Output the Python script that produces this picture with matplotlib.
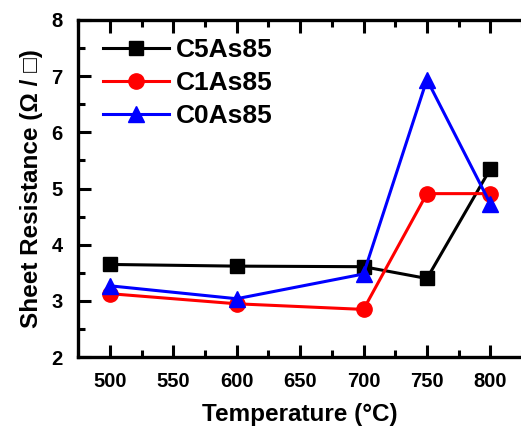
import matplotlib
matplotlib.use("Agg")
import matplotlib.pyplot as plt
from matplotlib.ticker import MultipleLocator

plt.rcParams['font.family'] = ['Liberation Sans', 'DejaVu Sans']
plt.rcParams['font.weight'] = 'bold'

temps = [500, 600, 700, 750, 800]
c5as85 = [3.65, 3.62, 3.61, 3.40, 5.35]
c1as85 = [3.13, 2.95, 2.85, 4.91, 4.91]
c0as85 = [3.27, 3.04, 3.48, 6.94, 4.73]

fig = plt.figure(figsize=(5.21, 4.34), dpi=100)
ax = fig.add_axes([0.150, 0.177, 0.852, 0.777])

ax.plot(temps, c5as85, color='black', lw=2.2, marker='s', ms=10, label='C5As85')
ax.plot(temps, c1as85, color='red', lw=2.2, marker='o', ms=11, label='C1As85')
ax.plot(temps, c0as85, color='blue', lw=2.2, marker='^', ms=12, label='C0As85')

ax.set_xlim(475, 825)
ax.set_ylim(2, 8)
ax.xaxis.set_major_locator(MultipleLocator(50))
ax.xaxis.set_minor_locator(MultipleLocator(25))
ax.yaxis.set_major_locator(MultipleLocator(1))
ax.yaxis.set_minor_locator(MultipleLocator(0.5))

for s in ['left', 'bottom', 'top']:
    ax.spines[s].set_linewidth(2.4)
ax.spines['right'].set_visible(False)

ax.tick_params(which='major', direction='in', length=9, width=2.2, labelsize=14.5, pad=11)
ax.tick_params(which='minor', direction='in', length=5, width=2.2)
ax.tick_params(which='both', top=True)
ax.tick_params(axis='y', pad=11)

ax.set_xlabel('Temperature (°C)', fontsize=17.5, fontweight='bold', labelpad=8)
ax.set_ylabel('Sheet Resistance (Ω / □)', fontsize=17.5, fontweight='bold', labelpad=6)

ax.legend(loc='upper left', frameon=False, fontsize=19, handlelength=2.5,
          handletextpad=0.25, labelspacing=0.33, borderaxespad=0.3,
          bbox_to_anchor=(0.015, 1.0))

fig.savefig('out.png', dpi=100)
